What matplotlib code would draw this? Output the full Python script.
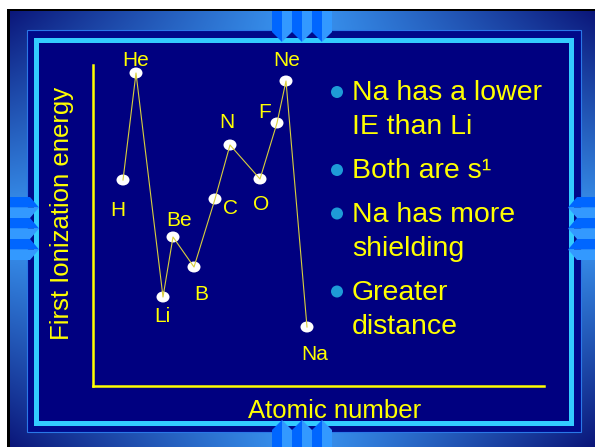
import numpy as np
import matplotlib.pyplot as plt
from matplotlib.patches import Rectangle, Polygon, Ellipse, Circle

plt.rcParams['font.family'] = ['Liberation Sans', 'DejaVu Sans']

# Datos de la gráfica (posición a lo largo del eje y energía relativa)
elementos = ['H', 'He', 'Li', 'Be', 'B', 'C', 'N', 'O', 'F', 'Ne', 'Na']
posicion = [30, 43, 70, 80, 101, 122, 137, 167, 184, 193, 214]
energia = [206, 313, 89, 149, 119, 187, 241, 207, 263, 305, 59]
# Desplazamiento de cada etiqueta respecto a su punto
desplazamientos = [(-5, -30), (0, 13), (-1, -19), (6, 16), (7, -28), (16, -9),
                   (-3, 22), (1, -26), (-12, 10), (1, 20), (8, -28)]

# Texto con viñetas
vinetas = [["Na has a lower", "IE than Li"],
           ["Both are s\u00b9"],
           ["Na has more", "shielding"],
           ["Greater", "distance"]]

amarillo = '#ffff00'
W, H = 595, 447

fig = plt.figure(figsize=(W / 100, H / 100), dpi=100)
fig.patch.set_facecolor('white')

# Fondo de la diapositiva en coordenadas de píxel
fondo = fig.add_axes([0, 0, 1, 1])
fondo.set_xlim(0, W)
fondo.set_ylim(H, 0)
fondo.axis('off')

# Marco con degradado: oscuro en las esquinas, claro en el centro de los lados
yy, xx = np.mgrid[0:H, 0:W]
u = np.abs(xx - 301) / 294
v = np.abs(yy - 228) / 219
t = np.clip(1 - u * v, 0, 1)
oscuro = np.array([0.04, 0.08, 0.47])
claro = np.array([0.23, 0.60, 0.96])
img = oscuro + t[..., None] * (claro - oscuro)
img[:9, :] = 1
img[:, :7] = 1
img[9:11, 7:] = 0
img[9:, 7:10] = 0
fondo.imshow(img, extent=(0, W, H, 0), interpolation='bilinear', zorder=0)

# Bordes interiores
fondo.add_patch(Rectangle((27, 30), 554, 402, facecolor='#000a8a',
                          edgecolor='#2a78e8', lw=0.8, zorder=1))
fondo.add_patch(Rectangle((35.5, 39.5), 535.5, 383, facecolor='#000080',
                          edgecolor='#33ccff', lw=3.6, zorder=2))

# Pestañas con flechas en los cuatro lados
azul1, azul2 = '#0066ff', '#3399ff'
for i in range(3):
    x0 = 272 + 20 * i
    # arriba
    fondo.add_patch(Polygon([(x0, 11), (x0 + 10, 11), (x0 + 10, 42), (x0, 32)], fc=azul1, ec='none', zorder=3))
    fondo.add_patch(Polygon([(x0 + 10, 11), (x0 + 20, 11), (x0 + 20, 32), (x0 + 10, 42)], fc=azul2, ec='none', zorder=3))
    # abajo
    fondo.add_patch(Polygon([(x0, H), (x0 + 10, H), (x0 + 10, 420), (x0, 430)], fc=azul1, ec='none', zorder=3))
    fondo.add_patch(Polygon([(x0 + 10, H), (x0 + 20, H), (x0 + 20, 430), (x0 + 10, 420)], fc=azul2, ec='none', zorder=3))
    y0 = 197 + 21 * i
    # izquierda
    fondo.add_patch(Polygon([(10, y0), (30, y0), (39, y0 + 10.5), (10, y0 + 10.5)], fc=azul1, ec='none', zorder=3))
    fondo.add_patch(Polygon([(10, y0 + 10.5), (39, y0 + 10.5), (30, y0 + 21), (10, y0 + 21)], fc=azul2, ec='none', zorder=3))
    # derecha
    fondo.add_patch(Polygon([(W, y0), (577, y0), (568, y0 + 10.5), (W, y0 + 10.5)], fc=azul1, ec='none', zorder=3))
    fondo.add_patch(Polygon([(W, y0 + 10.5), (568, y0 + 10.5), (577, y0 + 21), (W, y0 + 21)], fc=azul2, ec='none', zorder=3))

# Títulos de los ejes
fondo.text(62, 213, 'First Ionization energy', rotation=90, ha='center', va='center',
           fontsize=18.5, color=amarillo, zorder=4)
fondo.text(335, 418, 'Atomic number', ha='center', va='baseline',
           fontsize=18.5, color=amarillo, zorder=4)

# Viñetas
y = 100
for item in vinetas:
    fondo.add_patch(Circle((337, y - 8), 6, fc='#1e9bd7', ec='none', zorder=4))
    for linea in item:
        fondo.text(352, y, linea, ha='left', va='baseline', fontsize=20.5, color=amarillo, zorder=4)
        y += 34.5
    y += 9

# Gráfica de energía de ionización
ax = fig.add_axes([93 / W, (H - 386) / H, 451 / W, 321 / H])
ax.set_xlim(0, 451)
ax.set_ylim(0, 321)
ax.patch.set_alpha(0)
for lado in ['top', 'right']:
    ax.spines[lado].set_visible(False)
for lado in ['left', 'bottom']:
    ax.spines[lado].set_color(amarillo)
    ax.spines[lado].set_linewidth(1.8)
ax.set_xticks([])
ax.set_yticks([])

ax.plot(posicion, energia, color='#d8cf3c', lw=0.8, zorder=3)
for x, e, nombre, (dx, dy) in zip(posicion, energia, elementos, desplazamientos):
    ax.add_patch(Ellipse((x, e), 13, 11, fc='white', ec='none', zorder=2))
    ax.text(x + dx, e + dy, nombre, ha='center', va='center', fontsize=15, color=amarillo)

fig.savefig('out.png', dpi=100)
